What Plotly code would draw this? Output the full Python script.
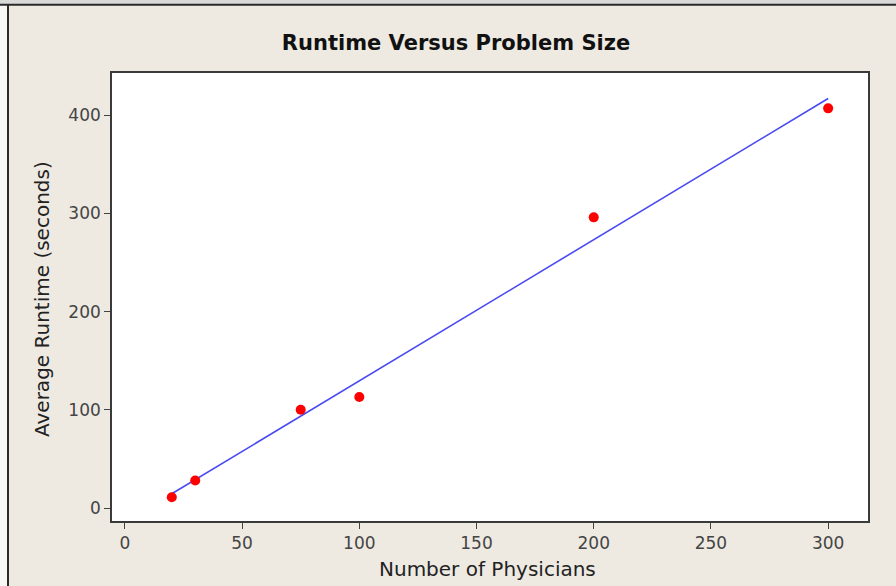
import plotly.graph_objects as go

# Data
physicians = [20, 30, 75, 100, 200, 300]
avg_runtime = [11, 28, 100, 113, 296, 407]

# Fitted regression line (endpoints)
fit_x = [20, 300]
fit_y = [14.5, 417]

x_ticks = [0, 50, 100, 150, 200, 250, 300]
y_ticks = [0, 100, 200, 300, 400]

W, H = 896, 586
L, R, T, B = 112, 868, 73, 521  # plot area pixel box


def px(p):
    return (p - L) / (R - L)


def py(q):
    return (B - q) / (B - T)


bg = "#eeeae2"
fig = go.Figure()

fig.add_trace(go.Scatter(
    x=fit_x, y=fit_y, mode="lines",
    line=dict(color="#4a4af2", width=1.6),
    hoverinfo="skip", showlegend=False,
))
fig.add_trace(go.Scatter(
    x=physicians, y=avg_runtime, mode="markers",
    marker=dict(color="#ff0000", size=10, line=dict(width=0)),
    showlegend=False,
))

axis_common = dict(
    showgrid=False, zeroline=False,
    showline=True, linecolor="#3a3a3a", linewidth=1.6, mirror=True,
    ticks="outside", ticklen=6, tickwidth=1.3, tickcolor="#444",
    tickfont=dict(family="DejaVu Sans", size=17, color="#444"),
)

fig.update_xaxes(range=[-5.5, 317], tickvals=x_ticks, **axis_common)
fig.update_yaxes(range=[-13.2, 443], tickvals=y_ticks, **axis_common)

shapes = [
    # page-edge light strip at far left
    dict(type="rect", xref="paper", yref="paper",
         x0=px(0), x1=px(7), y0=py(0), y1=py(H),
         fillcolor="#f7f7f5", line=dict(width=0), layer="below"),
    # top light strip
    dict(type="rect", xref="paper", yref="paper",
         x0=px(0), x1=px(W), y0=py(0), y1=py(4),
         fillcolor="#d9d9d9", line=dict(width=0), layer="below"),
    # top dark line
    dict(type="line", xref="paper", yref="paper",
         x0=px(0), x1=px(W), y0=py(4.8), y1=py(4.8),
         line=dict(color="#2a2a2a", width=2)),
    # left dark line
    dict(type="line", xref="paper", yref="paper",
         x0=px(8), x1=px(8), y0=py(4), y1=py(H),
         line=dict(color="#2a2a2a", width=2)),
]

annotations = [
    dict(text="Number of Physicians", xref="paper", yref="paper",
         x=px(487), y=py(569), xanchor="center", yanchor="middle",
         showarrow=False, font=dict(family="DejaVu Sans", size=20, color="#222")),
    dict(text="Average Runtime (seconds)", xref="paper", yref="paper",
         x=px(42), y=py(299), xanchor="center", yanchor="middle", textangle=-90,
         showarrow=False, font=dict(family="DejaVu Sans", size=20, color="#222")),
]

fig.update_layout(
    width=W, height=H,
    margin=dict(l=L, r=W - R, t=T, b=H - B, pad=0),
    paper_bgcolor=bg, plot_bgcolor="#ffffff",
    title=dict(text="<b>Runtime Versus Problem Size</b>",
               x=456 / W, xanchor="center", y=1 - 43 / H, yanchor="middle",
               font=dict(family="DejaVu Sans", size=21, color="#111")),
    shapes=shapes, annotations=annotations,
    showlegend=False,
)

fig.write_html("out.html", config={"displayModeBar": False},
               post_script="document.body.style.margin='0';")
